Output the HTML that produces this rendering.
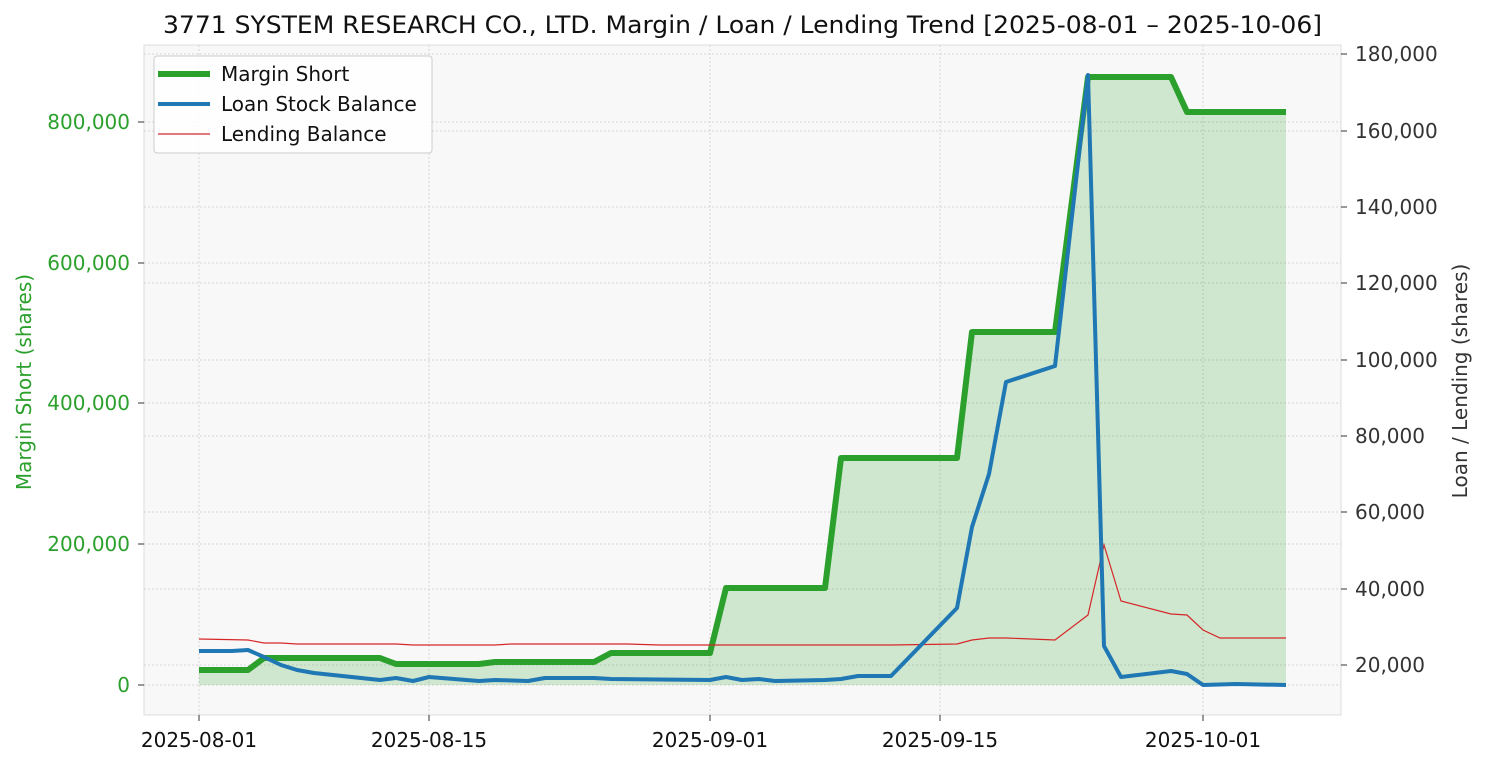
<!DOCTYPE html>
<html><head><meta charset="utf-8"><style>
body{margin:0;background:#fff;}
svg{display:block;font-family:"DejaVu Sans","Liberation Sans",sans-serif;}
</style></head><body>
<svg width="1485" height="765" viewBox="0 0 1485 765">
<rect x="144" y="45" width="1197" height="670" fill="#f8f8f8" stroke="#dddddd"/>
<g stroke="#d6d6d6" stroke-dasharray="2,2" stroke-width="1">
<line x1="144" x2="1341" y1="685" y2="685"/><line x1="144" x2="1341" y1="544" y2="544"/><line x1="144" x2="1341" y1="403" y2="403"/><line x1="144" x2="1341" y1="263" y2="263"/><line x1="144" x2="1341" y1="122" y2="122"/>
<line x1="144" x2="1341" y1="665" y2="665"/><line x1="144" x2="1341" y1="589" y2="589"/><line x1="144" x2="1341" y1="512" y2="512"/><line x1="144" x2="1341" y1="436" y2="436"/><line x1="144" x2="1341" y1="360" y2="360"/><line x1="144" x2="1341" y1="283" y2="283"/><line x1="144" x2="1341" y1="207" y2="207"/><line x1="144" x2="1341" y1="131" y2="131"/><line x1="144" x2="1341" y1="54" y2="54"/>
<line x1="199" x2="199" y1="45" y2="715"/><line x1="429" x2="429" y1="45" y2="715"/><line x1="710" x2="710" y1="45" y2="715"/><line x1="940" x2="940" y1="45" y2="715"/><line x1="1203" x2="1203" y1="45" y2="715"/>
</g>
<polygon fill="rgba(44,160,44,0.2)" stroke="none" points="199,685 199,670 248,670 264,658 380,658 396,664 479,664 495,662 594,662 611,653 710,653 726,588 825,588 841,458 957,458 972,332 1055,332 1088,77 1171,77 1187,112 1286,112 1286,685"/>
<polyline fill="none" stroke="#2ca02c" stroke-width="6" stroke-linejoin="round" points="199,670 248,670 264,658 380,658 396,664 479,664 495,662 594,662 611,653 710,653 726,588 825,588 841,458 957,458 972,332 1055,332 1088,77 1171,77 1187,112 1286,112"/>
<polyline fill="none" stroke="#d62728" stroke-width="1.2" points="199,639 248,640 264,643 281,643 297,644 380,644 396,644 413,645 479,645 495,645 511,644 594,644 627,644 660,645 710,645 891,645 957,644 972,640 989,638 1006,638 1055,640 1088,615 1104,545 1121,601 1171,614 1187,615 1203,630 1220,638 1286,638"/>
<polyline fill="none" stroke="#1f77b4" stroke-width="4" stroke-linejoin="round" points="199,651 232,651 248,650 264,657 281,665 297,670 314,673 380,680 396,678 413,681 429,677 479,681 495,680 528,681 545,678 594,678 611,679 710,680 726,677 742,680 759,679 775,681 825,680 841,679 858,676 891,676 957,608 972,527 989,474 1006,382 1055,366 1088,75 1104,646 1121,677 1171,671 1187,674 1203,685 1236,684 1286,685"/>
<g fill="#2ca02c" font-size="20" text-anchor="end">
<text x="130" y="692">0</text><text x="130" y="551">200,000</text><text x="130" y="410">400,000</text><text x="130" y="270">600,000</text><text x="130" y="129">800,000</text>
</g>
<g stroke="#333" stroke-width="1">
<line x1="138" x2="144" y1="685" y2="685"/><line x1="138" x2="144" y1="544" y2="544"/><line x1="138" x2="144" y1="403" y2="403"/><line x1="138" x2="144" y1="263" y2="263"/><line x1="138" x2="144" y1="122" y2="122"/>
<line x1="1341" x2="1347" y1="665" y2="665"/><line x1="1341" x2="1347" y1="589" y2="589"/><line x1="1341" x2="1347" y1="512" y2="512"/><line x1="1341" x2="1347" y1="436" y2="436"/><line x1="1341" x2="1347" y1="360" y2="360"/><line x1="1341" x2="1347" y1="283" y2="283"/><line x1="1341" x2="1347" y1="207" y2="207"/><line x1="1341" x2="1347" y1="131" y2="131"/><line x1="1341" x2="1347" y1="54" y2="54"/>
<line x1="199" x2="199" y1="715" y2="721"/><line x1="429" x2="429" y1="715" y2="721"/><line x1="710" x2="710" y1="715" y2="721"/><line x1="940" x2="940" y1="715" y2="721"/><line x1="1203" x2="1203" y1="715" y2="721"/>
</g>
<g fill="#333" font-size="20">
<text x="1355" y="672">20,000</text><text x="1355" y="596">40,000</text><text x="1355" y="519">60,000</text><text x="1355" y="443">80,000</text><text x="1355" y="367">100,000</text><text x="1355" y="290">120,000</text><text x="1355" y="214">140,000</text><text x="1355" y="138">160,000</text><text x="1355" y="61">180,000</text>
</g>
<g fill="#111" font-size="20" text-anchor="middle">
<text x="199" y="747">2025-08-01</text><text x="429" y="747">2025-08-15</text><text x="710" y="747">2025-09-01</text><text x="940" y="747">2025-09-15</text><text x="1203" y="747">2025-10-01</text>
</g>
<text x="163" y="33" font-size="24" textLength="1159" lengthAdjust="spacingAndGlyphs" fill="#111">3771 SYSTEM RESEARCH CO., LTD. Margin / Loan / Lending Trend [2025-08-01 – 2025-10-06]</text>
<text transform="translate(31,382) rotate(-90)" font-size="20" fill="#2ca02c" text-anchor="middle">Margin Short (shares)</text>
<text transform="translate(1467,381) rotate(-90)" font-size="20" fill="#333" text-anchor="middle">Loan / Lending (shares)</text>
<rect x="154" y="56" width="278" height="97" rx="3" fill="#fff" fill-opacity="0.85" stroke="#ccc"/>
<line x1="158" x2="210" y1="74" y2="74" stroke="#2ca02c" stroke-width="6"/>
<line x1="158" x2="210" y1="104" y2="104" stroke="#1f77b4" stroke-width="4"/>
<line x1="158" x2="210" y1="134" y2="134" stroke="#d62728" stroke-width="1.2"/>
<g font-size="20" fill="#111"><text x="221" y="81">Margin Short</text><text x="221" y="111">Loan Stock Balance</text><text x="221" y="141">Lending Balance</text></g>
</svg>
</body></html>
